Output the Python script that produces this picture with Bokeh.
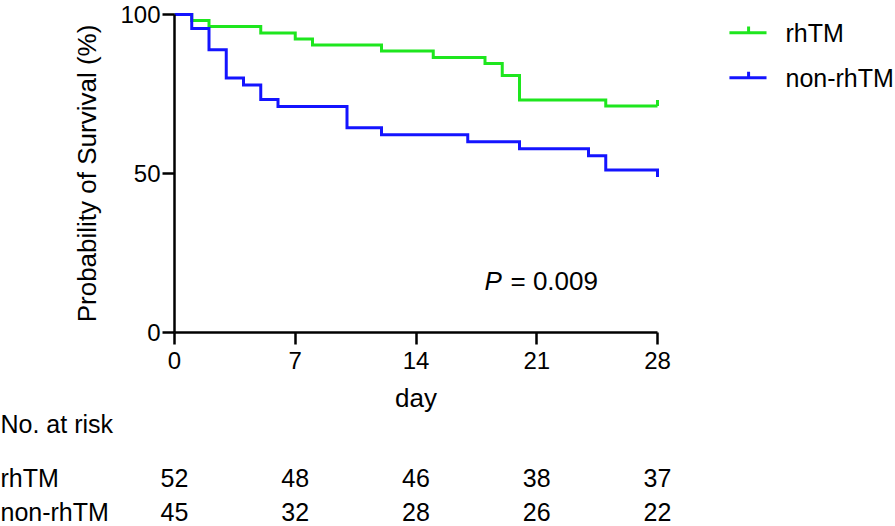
from bokeh.plotting import figure
from bokeh.models import Range1d, FixedTicker
from bokeh.embed import file_html
from bokeh.resources import INLINE
from bokeh.core.properties import value

# ---------------- data ----------------
series_names = ["rhTM", "non-rhTM"]
rhtm_days = [0, 1, 2, 5, 7, 8, 12, 15, 18, 19, 20, 25, 28]
rhtm_surv = [100, 98.1, 96.2, 94.2, 92.3, 90.4, 88.5, 86.5, 84.6, 80.8, 73.1, 71.2, 71.2]
non_days = [0, 1, 2, 3, 4, 5, 6, 10, 12, 17, 20, 24, 25, 28]
non_surv = [100, 95.6, 88.9, 80.0, 77.8, 73.3, 71.1, 64.4, 62.2, 60.0, 57.8, 55.6, 51.1, 48.9]
risk_days = [0, 7, 14, 21, 28]
risk_rhtm = [52, 48, 46, 38, 37]
risk_non = [45, 32, 28, 26, 22]
x_ticks = [0, 7, 14, 21, 28]
y_ticks = [0, 50, 100]
p_value = "0.009"

# ---------------- style / layout ----------------
GREEN = "#1EE61E"
BLUE = "#1414FF"
FONT = "Liberation Sans"
TICK_FS = "24px"
TEXT_FS = "25px"
BIG_FS = "26px"
W, H = 895, 526
X0_PX, Y0_PX, Y100_PX = 174, 332, 14     # pixel position of day 0 / 0 % / 100 %
PX_PER_DAY = 17.25
PX_PER_PCT = (Y0_PX - Y100_PX) / 100
CENSOR = 1.9                               # censor tick height (% units)
LEG_X0, LEG_X1, LEG_TICK_X, LEG_TEXT_X = 32.17, 34.32, 33.28, 35.42
LEG_Y = [94.3, 80.1]
P_X, P_Y = 17.97, 16.35
HEAD_Y, ROW1_Y, ROW2_Y = -28.8, -45.6, -56.6   # table row centres (% units)

x_range = Range1d(-X0_PX / PX_PER_DAY, (W - X0_PX) / PX_PER_DAY)
y_range = Range1d(-(H - Y0_PX) / PX_PER_PCT, 100 + Y100_PX / PX_PER_PCT)

p = figure(width=W, height=H, output_backend="svg", toolbar_location=None,
           x_range=x_range, y_range=y_range,
           min_border_left=0, min_border_right=0, min_border_top=0, min_border_bottom=0)
p.outline_line_color = None
p.grid.visible = False

for ax in (p.xaxis[0], p.yaxis[0]):
    ax.fixed_location = 0
    ax.axis_line_width = 2.5
    ax.axis_line_color = "black"
    ax.major_tick_line_width = 2.5
    ax.major_tick_line_color = "black"
    ax.major_tick_out = 12
    ax.major_tick_in = 0
    ax.minor_tick_line_color = None
    ax.major_label_text_font = FONT
    ax.major_label_text_font_size = TICK_FS
    ax.major_label_text_color = "black"
    ax.axis_label_text_font = FONT
    ax.axis_label_text_font_size = BIG_FS
    ax.axis_label_text_font_style = "normal"
    ax.axis_label_text_color = "black"

p.xaxis.bounds = (x_ticks[0], x_ticks[-1])
p.xaxis.ticker = FixedTicker(ticks=x_ticks)
p.xaxis.axis_label = "day"
p.xaxis.major_label_standoff = 7
p.xaxis.axis_label_standoff = 11

p.yaxis.bounds = (y_ticks[0], y_ticks[-1])
p.yaxis.ticker = FixedTicker(ticks=y_ticks)
p.yaxis.axis_label = "Probability of Survival (%)"
p.yaxis.major_label_standoff = 2
p.yaxis.axis_label_standoff = 15

# survival curves
p.step(rhtm_days, rhtm_surv, mode="after", line_color=GREEN, line_width=3, line_join="miter")
p.step(non_days, non_surv, mode="after", line_color=BLUE, line_width=3, line_join="miter")
p.segment(x0=[rhtm_days[-1]], y0=[rhtm_surv[-1]], x1=[rhtm_days[-1]],
          y1=[rhtm_surv[-1] + CENSOR], line_color=GREEN, line_width=3)

# legend
colors = [GREEN, BLUE]
p.segment(x0=[LEG_X0] * 2, y0=LEG_Y, x1=[LEG_X1] * 2, y1=LEG_Y, line_color=colors, line_width=3)
p.segment(x0=[LEG_TICK_X] * 2, y0=LEG_Y, x1=[LEG_TICK_X] * 2,
          y1=[v + CENSOR for v in LEG_Y], line_color=colors, line_width=3)
p.text(x=[LEG_TEXT_X] * 2, y=LEG_Y, text=series_names, text_font=value(FONT),
       text_font_size=TEXT_FS, text_baseline="middle", text_align="left", text_color="black")

# P value
p.text(x=[P_X], y=[P_Y], text=["P"], text_font=value(FONT), text_font_size=BIG_FS,
       text_font_style="italic", text_baseline="middle", text_color="black")
p.text(x=[P_X], y=[P_Y], text=["= " + p_value], x_offset=26, text_font=value(FONT),
       text_font_size=BIG_FS, text_baseline="middle", text_color="black")

# risk table
p.text(x=risk_days, y=[ROW1_Y] * len(risk_days), text=[str(v) for v in risk_rhtm],
       text_font=value(FONT), text_font_size=TEXT_FS, text_align="center",
       text_baseline="middle", text_color="black")
p.text(x=risk_days, y=[ROW2_Y] * len(risk_days), text=[str(v) for v in risk_non],
       text_font=value(FONT), text_font_size=TEXT_FS, text_align="center",
       text_baseline="middle", text_color="black")
p.text(x=[x_range.start] * 3, y=[HEAD_Y, ROW1_Y, ROW2_Y],
       text=["No. at risk", series_names[0], series_names[1]], text_font=value(FONT),
       text_font_size=TEXT_FS, text_align="left", text_baseline="middle", text_color="black")

open("out.html", "w").write(file_html(p, INLINE))
